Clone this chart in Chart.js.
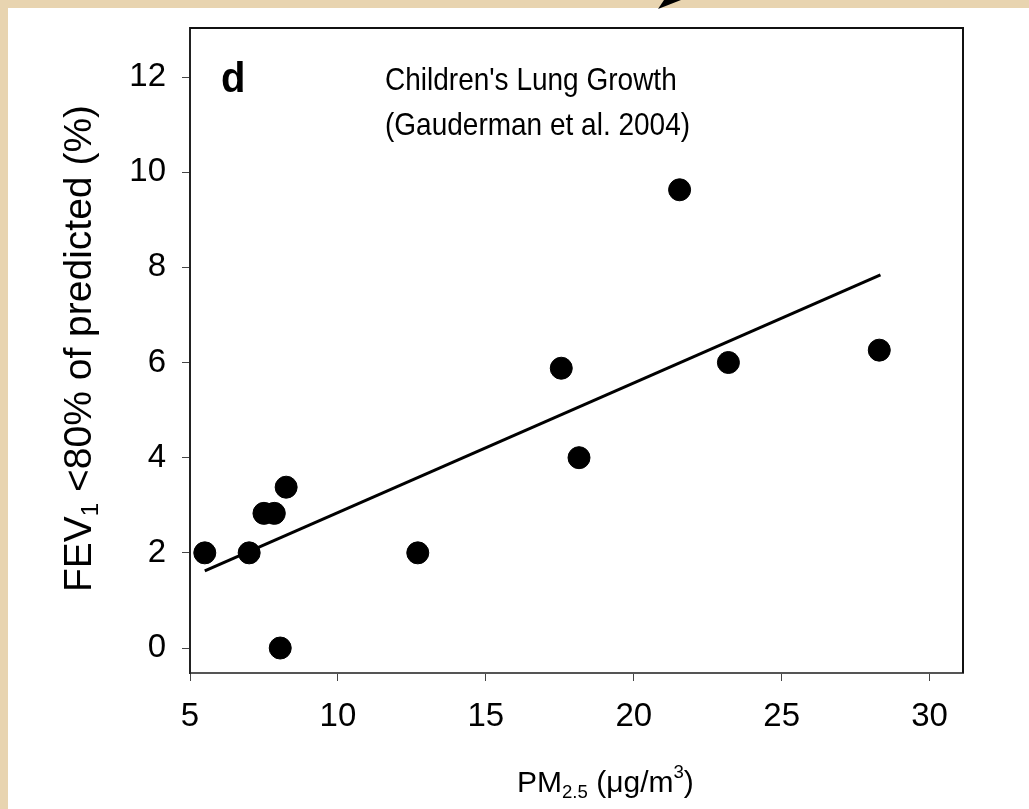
<!DOCTYPE html>
<html lang="en">
<head>
  <meta charset="UTF-8" />
  <title>Children's Lung Growth</title>
  <script src="https://cdn.jsdelivr.net/npm/chart.js"></script>
  <style>
    body {
      margin: 0;
      background: #e8d4b0;
      overflow: hidden;
    }
    #chart {
      display: block;
    }
  </style>
</head>
<body>
  <canvas id="chart" width="1029" height="809"></canvas>
  <script>
    // PM2.5 (ug/m3) vs FEV1 < 80% of predicted (%)
    const pm25 = [5.5, 7.0, 7.5, 7.85, 8.05, 8.25, 12.7, 17.55, 18.15, 21.55, 23.2, 28.3];
    const fev1 = [2.0, 2.0, 2.83, 2.83, 0.0, 3.38, 2.0, 5.88, 4.0, 9.63, 6.0, 6.26];

    // fitted line, end points
    const fitX = [5.5, 28.34];
    const fitY = [1.62, 7.84];

    const xTicks = [5, 10, 15, 20, 25, 30];
    const yTicks = [0, 2, 4, 6, 8, 10, 12];

    const font = "'Liberation Sans', Arial, sans-serif";

    const points = pm25.map((x, i) => ({ x: x, y: fev1[i] }));
    const fitLine = fitX.map((x, i) => ({ x: x, y: fitY[i] }));

    // text with sub/superscript parts: [text, 'n'|'sub'|'sup']
    function drawRich(ctx, parts, x, y, size) {
      let cx = x;
      parts.forEach(([t, kind]) => {
        const s = kind === 'n' ? size : size * 0.62;
        const dy = kind === 'sub' ? size * 0.3 : kind === 'sup' ? -size * 0.38 : 0;
        ctx.font = s + 'px ' + font;
        ctx.fillText(t, cx, y + dy);
        cx += ctx.measureText(t).width;
      });
    }
    function richWidth(ctx, parts, size) {
      let w = 0;
      parts.forEach(([t, kind]) => {
        const s = kind === 'n' ? size : size * 0.62;
        ctx.font = s + 'px ' + font;
        w += ctx.measureText(t).width;
      });
      return w;
    }
    // text a little taller than wide, as in the original slide
    function tallText(ctx, text, x, y, stretch) {
      ctx.save();
      ctx.translate(x, y);
      ctx.scale(1, stretch);
      ctx.fillText(text, 0, 0);
      ctx.restore();
    }

    const decor = {
      id: 'decor',
      beforeDraw(chart) {
        const ctx = chart.ctx;
        ctx.save();
        ctx.fillStyle = '#e8d4b0';
        ctx.fillRect(0, 0, chart.width, chart.height);
        ctx.fillStyle = '#ffffff';
        ctx.fillRect(8, 8, chart.width - 8, chart.height - 8);
        // bit of the arrow coming from above
        ctx.fillStyle = '#000';
        ctx.beginPath();
        ctx.moveTo(658, 9);
        ctx.lineTo(664, 0);
        ctx.lineTo(681, 0);
        ctx.closePath();
        ctx.fill();
        ctx.restore();
      },
      afterDraw(chart) {
        const ctx = chart.ctx;
        const a = chart.chartArea;
        ctx.save();
        // frame top and right
        ctx.strokeStyle = '#111';
        ctx.lineWidth = 2;
        ctx.beginPath();
        ctx.moveTo(a.left, a.top);
        ctx.lineTo(a.right, a.top);
        ctx.lineTo(a.right, a.bottom);
        ctx.stroke();

        ctx.fillStyle = '#000';
        ctx.textBaseline = 'middle';
        ctx.textAlign = 'left';
        // panel letter
        ctx.font = 'bold 40px ' + font;
        tallText(ctx, 'd', 221, 80, 1.05);
        ctx.font = '28px ' + font;
        tallText(ctx, "Children's Lung Growth", 385, 81, 1.15);
        tallText(ctx, '(Gauderman et al. 2004)', 385, 126, 1.15);

        // x title
        const xParts = [['PM', 'n'], ['2.5', 'sub'], [' (\u03bcg/m', 'n'], ['3', 'sup'], [')', 'n']];
        drawRich(ctx, xParts, 517, 784, 30);

        // y title, rotated
        const yParts = [['FEV', 'n'], ['1', 'sub'], [' <80% of predicted (%)', 'n']];
        const yw = richWidth(ctx, yParts, 39);
        ctx.translate(80, (a.top + a.bottom) / 2 - 2);
        ctx.rotate(-Math.PI / 2);
        drawRich(ctx, yParts, -yw / 2, 0, 39);
        ctx.restore();
      }
    };

    new Chart(document.getElementById('chart'), {
      type: 'scatter',
      data: {
        datasets: [
          {
            label: 'Communities',
            data: points,
            backgroundColor: '#000',
            borderColor: '#000',
            pointRadius: 11,
            pointHoverRadius: 11
          },
          {
            label: 'Fit',
            type: 'line',
            data: fitLine,
            borderColor: '#000',
            borderWidth: 3,
            pointRadius: 0,
            fill: false,
            tension: 0
          }
        ]
      },
      options: {
        responsive: false,
        animation: false,
        layout: { padding: { left: 0, right: 66, top: 28, bottom: 0 } },
        plugins: {
          legend: { display: false },
          tooltip: { enabled: false }
        },
        scales: {
          x: {
            type: 'linear',
            min: 5,
            max: 31.13,
            afterBuildTicks: s => { s.ticks = xTicks.map(v => ({ value: v })); },
            afterFit: s => { s.height = 136; s.paddingLeft = 0; s.paddingRight = 0; },
            grid: { drawOnChartArea: false, drawTicks: true, tickLength: 8, color: '#444', lineWidth: 1 },
            border: { display: true, color: '#555', width: 2 },
            ticks: { color: '#000', font: { family: font, size: 33 }, padding: 16, maxRotation: 0 }
          },
          y: {
            type: 'linear',
            min: -0.525,
            max: 13.03,
            afterBuildTicks: s => { s.ticks = yTicks.map(v => ({ value: v })); },
            afterFit: s => { s.width = 190; s.paddingTop = 0; s.paddingBottom = 0; },
            grid: { drawOnChartArea: false, drawTicks: true, tickLength: 8, color: '#444', lineWidth: 1 },
            border: { display: true, color: '#222', width: 2 },
            ticks: { color: '#000', font: { family: font, size: 33 }, padding: 16 }
          }
        }
      },
      plugins: [decor]
    });
  </script>
</body>
</html>
